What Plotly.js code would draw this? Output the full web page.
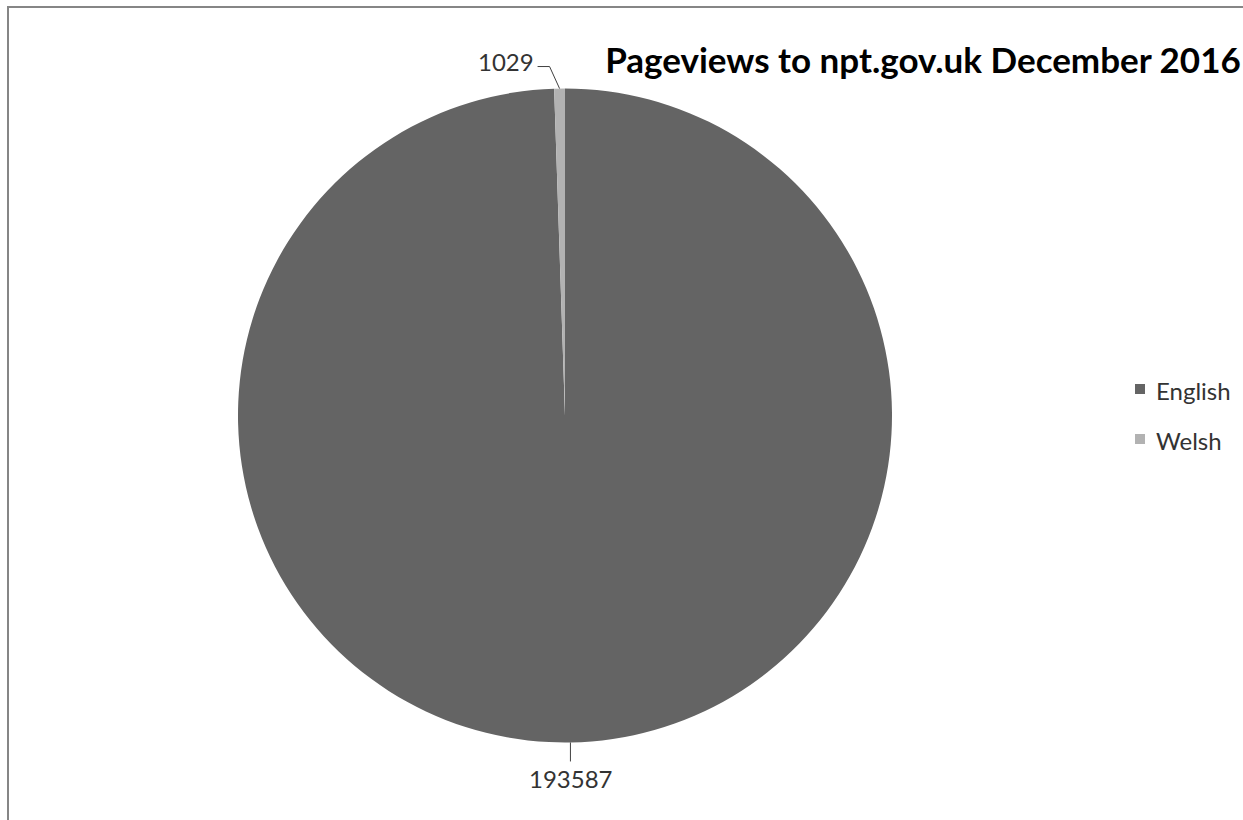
<!DOCTYPE html>
<html><head><meta charset="utf-8">
<script src="https://cdn.plot.ly/plotly-3.0.1.min.js"></script>
<style>html,body{margin:0;padding:0;background:#fff;}#chart{width:1243px;height:820px;}</style>
</head><body><div id="chart"></div>
<script>
const labels = ["English", "Welsh"];
const values = [193587, 1029];
const colors = ["#646464", "#b2b2b2"];
const titleText = "Pageviews to npt.gov.uk December 2016";

const W = 1243, H = 820;
const cx = 565, cy = 415.5, R = 327;
const px = x => x / W, py = y => 1 - y / H;

const total = values.reduce((a, b) => a + b, 0);
let cum = 0;
const mids = values.map(v => { const m = (cum + v / 2) / total * 360; cum += v; return m; });
const edge = a => { const t = a * Math.PI / 180; return [cx + R * Math.sin(t), cy - R * Math.cos(t)]; };

const shapes = [{type: 'rect', xref: 'paper', yref: 'paper', x0: px(8), x1: 1.3, y0: -0.3, y1: py(7),
  line: {color: '#868686', width: 2}, fillcolor: 'rgba(0,0,0,0)'}];
const annotations = [];
const font = {family: 'Lato, "Open Sans", sans-serif', size: 24, color: '#333333'};

// English label (bottom)
{
  const [ex, ey] = edge(mids[0]);
  shapes.push({type: 'line', xref: 'paper', yref: 'paper', x0: px(ex), y0: py(ey), x1: px(ex), y1: py(ey + 19), line: {color: '#404040', width: 1}});
  annotations.push({xref: 'paper', yref: 'paper', x: px(ex + 1), y: py(ey + 36), xanchor: 'center', yanchor: 'middle', showarrow: false, text: String(values[0]), font});
}
// Welsh label (top)
{
  const [ex, ey] = edge(mids[1]);
  shapes.push({type: 'path', xref: 'paper', yref: 'paper',
    path: `M ${px(ex)} ${py(ey)} L ${px(ex - 10)} ${py(ey - 22)} L ${px(ex - 22)} ${py(ey - 22)}`,
    line: {color: '#404040', width: 1}});
  annotations.push({xref: 'paper', yref: 'paper', x: px(ex - 24), y: py(ey - 27), xanchor: 'right', yanchor: 'middle', showarrow: false, text: String(values[1]), font});
}
// Legend
labels.forEach((lab, i) => {
  const yc = 389 + i * 50;
  shapes.push({type: 'rect', xref: 'paper', yref: 'paper', x0: px(1135), x1: px(1145), y0: py(yc + 5), y1: py(yc - 5), fillcolor: colors[i], line: {width: 0}});
  annotations.push({xref: 'paper', yref: 'paper', x: px(1154), y: py(yc + 1), xanchor: 'left', yanchor: 'middle', showarrow: false, text: lab, font});
});

const data = [{
  type: 'pie', labels, values, sort: false, direction: 'clockwise', rotation: 0,
  marker: {colors, line: {width: 0}}, textinfo: 'none', hoverinfo: 'label+value',
  domain: {x: [px(238), px(892)], y: [py(743), py(88)]}, showlegend: false
}];

const layout = {
  width: W, height: H, margin: {l: 0, r: 0, t: 0, b: 0},
  paper_bgcolor: '#fff', plot_bgcolor: '#fff', showlegend: false,
  title: {text: '<b>' + titleText + '</b>', x: px(923), xanchor: 'center', y: py(61), yanchor: 'middle', yref: 'container', xref: 'container',
    font: {family: 'Lato, "Open Sans", sans-serif', size: 35, color: '#000'}},
  shapes, annotations
};
Plotly.newPlot('chart', data, layout, {displayModeBar: false, staticPlot: true});
</script></body></html>
